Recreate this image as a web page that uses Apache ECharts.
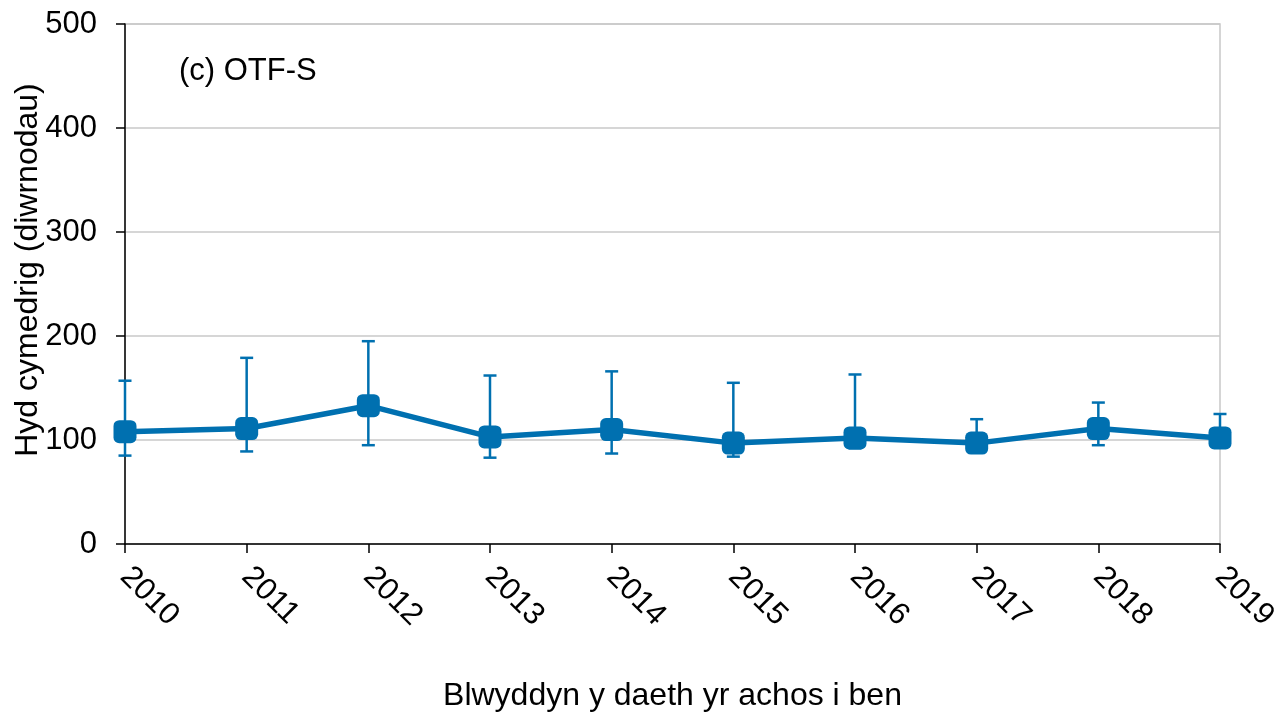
<!DOCTYPE html>
<html>
<head>
<meta charset="utf-8">
<script src="https://cdn.jsdelivr.net/npm/echarts@6/dist/echarts.min.js"></script>
<style>
  html, body { margin: 0; padding: 0; background: #fff; }
  #chart { width: 1288px; height: 712px; }
</style>
</head>
<body>
<div id="chart"></div>
<script>
const years = ['2010', '2011', '2012', '2013', '2014', '2015', '2016', '2017', '2018', '2019'];
const meanDays = [108, 111, 133, 103, 110, 97, 102, 97, 111, 102];
const lowerDays = [85, 89, 95, 83, 87, 84, 92, 90, 95, 95];
const upperDays = [157, 179, 195, 162, 166, 155, 163, 120, 136, 125];

const BLUE = '#0070b0';
const FONT = '"Liberation Sans", Arial, sans-serif';
const FS = 31;

const errorData = years.map((y, i) => [i, lowerDays[i], upperDays[i]]);

function renderErrorBar(params, api) {
    const x = api.value(0);
    const lo = api.coord([x, api.value(1)]);
    const hi = api.coord([x, api.value(2)]);
    const half = 6.5;
    const style = {stroke: BLUE, lineWidth: 2.5};
    return {
        type: 'group',
        children: [
            {type: 'line', shape: {x1: lo[0], y1: lo[1], x2: hi[0], y2: hi[1]}, style},
            {type: 'line', shape: {x1: hi[0] - half, y1: hi[1], x2: hi[0] + half, y2: hi[1]}, style},
            {type: 'line', shape: {x1: lo[0] - half, y1: lo[1], x2: lo[0] + half, y2: lo[1]}, style},
        ],
    };
}

const chart = echarts.init(document.getElementById('chart'));
chart.setOption({
    animation: false,
    textStyle: {fontFamily: FONT},
    title: {
        text: '(c) OTF-S',
        left: 174,
        top: 51,
        textStyle: {fontFamily: FONT, fontSize: FS, fontWeight: 'normal', color: '#000'},
    },
    grid: {
        left: 125,
        right: 68,
        top: 24,
        bottom: 168,
        outerBoundsMode: 'none',
        containLabel: false,
        show: true,
        borderColor: '#c8c8c8',
        borderWidth: 1.5,
    },
    xAxis: {
        type: 'category',
        data: years,
        boundaryGap: false,
        name: 'Blwyddyn y daeth yr achos i ben',
        nameLocation: 'middle',
        nameGap: 136,
        nameMoveOverlap: false,
        nameTextStyle: {fontFamily: FONT, fontSize: 32, color: '#000'},
        axisLine: {lineStyle: {color: '#000', width: 1.5}},
        axisTick: {alignWithLabel: true, length: 9, lineStyle: {color: '#000', width: 1.5}},
        axisLabel: {rotate: -45, fontSize: FS, color: '#000', margin: 28, fontFamily: FONT},
        splitLine: {show: false},
    },
    yAxis: {
        type: 'value',
        min: 0,
        max: 500,
        interval: 100,
        name: 'Hyd cymedrig (diwrnodau)',
        nameLocation: 'middle',
        nameGap: 81,
        nameMoveOverlap: false,
        nameTextStyle: {fontFamily: FONT, fontSize: 32, color: '#000', padding: [0, 0, 0, 28]},
        axisLine: {show: true, lineStyle: {color: '#000', width: 1.5}},
        axisTick: {show: true, length: 9, lineStyle: {color: '#000', width: 1.5}},
        axisLabel: {fontSize: FS, color: '#000', margin: 28, fontFamily: FONT},
        splitLine: {lineStyle: {color: '#c8c8c8', width: 1.5}},
    },
    series: [
        {
            name: 'errors',
            type: 'custom',
            renderItem: renderErrorBar,
            data: errorData,
            encode: {x: 0, y: [1, 2]},
            z: 1,
        },
        {
            name: 'mean',
            type: 'line',
            data: meanDays,
            symbol: 'roundRect',
            symbolSize: 23,
            lineStyle: {color: BLUE, width: 5.5},
            itemStyle: {color: BLUE},
            z: 2,
        },
    ],
});
</script>
</body>
</html>
